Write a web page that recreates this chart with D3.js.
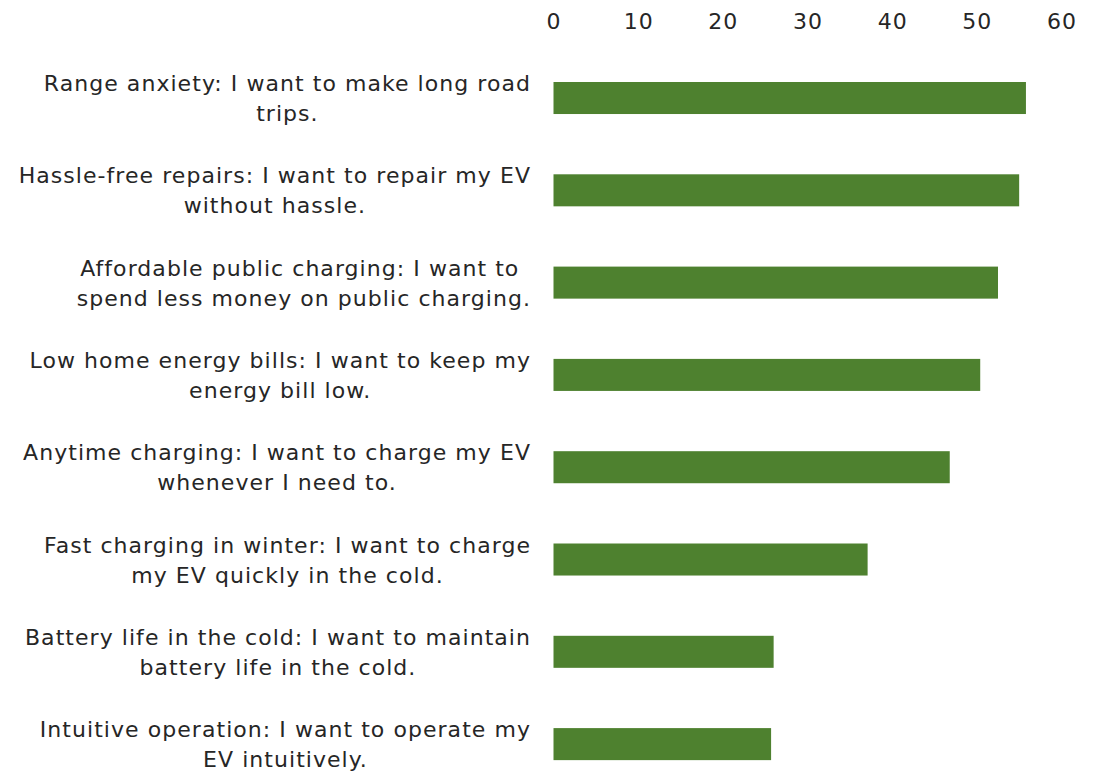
<!DOCTYPE html>
<html><head><meta charset="utf-8">
<script src="https://cdn.jsdelivr.net/npm/d3@7"></script>
<style>body{margin:0;background:#fff}svg{display:block}</style>
</head><body><svg id="c" width="1107" height="772"></svg>
<script>
const categories = [
  ["Range anxiety: I want to make long road", "trips."],
  ["Hassle-free repairs: I want to repair my EV", "without hassle."],
  ["Affordable public charging: I want to ", "spend less money on public charging."],
  ["Low home energy bills: I want to keep my", "energy bill low."],
  ["Anytime charging: I want to charge my EV", "whenever I need to."],
  ["Fast charging in winter: I want to charge", "my EV quickly in the cold."],
  ["Battery life in the cold: I want to maintain", "battery life in the cold."],
  ["Intuitive operation: I want to operate my", "EV intuitively."]
];
const values = [55.8, 55.0, 52.5, 50.4, 46.8, 37.1, 26.0, 25.7];
const tickValues = [0, 10, 20, 30, 40, 50, 60];

const svg = d3.select("#c");
const font = "'DejaVu Sans', sans-serif";
const x = d3.scaleLinear().domain([0, 60]).range([553.5, 1061.5]);
const step = 92.3, bw = 32;
const y = d3.scaleBand().domain(d3.range(categories.length))
  .range([82 - step * 0.653, 82 - step * 0.653 + step * (categories.length + 0.653)])
  .paddingInner(0.653).paddingOuter(0.653);

const xAxis = d3.axisTop(x).tickValues(tickValues).tickSize(0).tickPadding(0);
const ga = svg.append("g").attr("transform", "translate(0,29)").call(xAxis);
ga.select(".domain").remove();
ga.selectAll("text").attr("font-family", font).attr("font-size", 22)
  .attr("letter-spacing", 1).attr("fill", "#262626");

svg.append("g").selectAll("rect").data(values).join("rect")
  .attr("x", x(0)).attr("y", (d, i) => y(i))
  .attr("width", d => x(d) - x(0)).attr("height", y.bandwidth())
  .attr("fill", "#4e812f");

const labels = svg.append("g");
categories.forEach((lines, i) => {
  const g = labels.append("g");
  const texts = lines.map((t, j) => g.append("text")
    .attr("font-family", font).attr("font-size", 22).attr("letter-spacing", 1.05)
    .attr("fill", "#262626")
    .attr("text-anchor", "middle").style("white-space", "pre")
    .attr("y", y(i) + bw / 2 - 15 + j * 30 + 8).text(t));
  const w = d3.max(texts, t => t.node().getComputedTextLength());
  texts.forEach(t => t.attr("x", 531 - w / 2));
});
</script></body></html>
